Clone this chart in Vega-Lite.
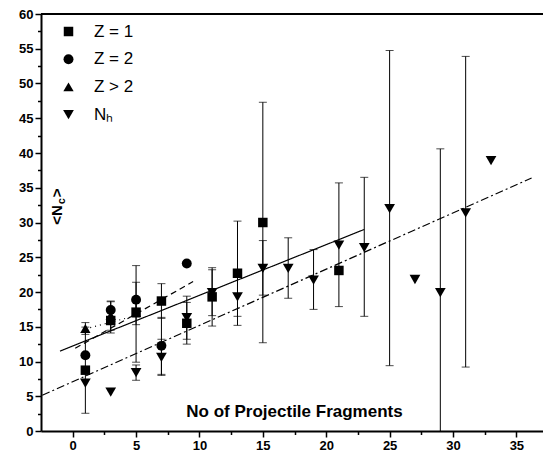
{
  "$schema": "https://vega.github.io/schema/vega-lite/v6.json",
  "width": 502,
  "height": 417,
  "autosize": {"type": "none"},
  "padding": {"left": 41, "top": 14, "right": 0, "bottom": 30},
  "config": {
    "view": {"stroke": null},
    "font": "Liberation Sans",
    "axis": {"domainColor": "#000000", "domainWidth": 2, "tickColor": "#000000", "tickWidth": 1.5, "labelFont": "Liberation Sans", "labelFontWeight": "bold", "labelFontSize": 13, "labelColor": "#000000", "grid": false, "titleColor": "#000000", "titleFont": "Liberation Sans"}
  },
  "datasets": {
    "pts": [
      {"s": "Z = 1", "x": 1, "y": 8.75, "lo": 2.55, "hi": 14.95},
      {"s": "Z = 1", "x": 3, "y": 15.9, "lo": 14.1, "hi": 17.7},
      {"s": "Z = 1", "x": 5, "y": 17.1, "lo": 9.9, "hi": 23.8},
      {"s": "Z = 1", "x": 7, "y": 18.7, "lo": 16.2, "hi": 21.2},
      {"s": "Z = 1", "x": 9, "y": 15.5, "lo": 12.5, "hi": 18.5},
      {"s": "Z = 1", "x": 11, "y": 19.3, "lo": 15.1, "hi": 23.5},
      {"s": "Z = 1", "x": 13, "y": 22.7, "lo": 15.2, "hi": 30.2},
      {"s": "Z = 1", "x": 15, "y": 30.0, "lo": 12.7, "hi": 47.3},
      {"s": "Z = 1", "x": 21, "y": 23.1, "lo": null, "hi": null},
      {"s": "Z = 2", "x": 1, "y": 10.9, "lo": null, "hi": null},
      {"s": "Z = 2", "x": 3, "y": 17.4, "lo": 16.2, "hi": 18.6},
      {"s": "Z = 2", "x": 5, "y": 18.9, "lo": 16.4, "hi": 21.4},
      {"s": "Z = 2", "x": 7, "y": 12.25, "lo": 8.15, "hi": 16.35},
      {"s": "Z = 2", "x": 9, "y": 24.1, "lo": null, "hi": null},
      {"s": "Z > 2", "x": 1, "y": 14.75, "lo": 13.9, "hi": 15.6},
      {"s": "Z > 2", "x": 3, "y": 16.6, "lo": 14.5, "hi": 18.7},
      {"s": "Z > 2", "x": 5, "y": 17.0, "lo": 15.3, "hi": 18.7},
      {"s": "Nₕ", "x": 1, "y": 6.9, "lo": null, "hi": null},
      {"s": "Nₕ", "x": 3, "y": 5.6, "lo": null, "hi": null},
      {"s": "Nₕ", "x": 5, "y": 8.4, "lo": 7.3, "hi": 9.5},
      {"s": "Nₕ", "x": 7, "y": 10.6, "lo": 8.0, "hi": 13.2},
      {"s": "Nₕ", "x": 9, "y": 16.3, "lo": 13.2, "hi": 19.4},
      {"s": "Nₕ", "x": 11, "y": 19.9, "lo": 16.6, "hi": 23.2},
      {"s": "Nₕ", "x": 13, "y": 19.3, "lo": 16.5, "hi": 22.1},
      {"s": "Nₕ", "x": 15, "y": 23.4, "lo": 19.55, "hi": 27.4},
      {"s": "Nₕ", "x": 17, "y": 23.4, "lo": 19.1, "hi": 27.8},
      {"s": "Nₕ", "x": 19, "y": 21.7, "lo": 17.5, "hi": 26.1},
      {"s": "Nₕ", "x": 21, "y": 26.75, "lo": 17.9, "hi": 35.7},
      {"s": "Nₕ", "x": 23, "y": 26.4, "lo": 16.5, "hi": 36.5},
      {"s": "Nₕ", "x": 25, "y": 32.0, "lo": 9.4, "hi": 54.75},
      {"s": "Nₕ", "x": 27, "y": 21.8, "lo": null, "hi": null},
      {"s": "Nₕ", "x": 29, "y": 19.9, "lo": -0.8, "hi": 40.6},
      {"s": "Nₕ", "x": 31, "y": 31.4, "lo": 9.2, "hi": 53.9},
      {"s": "Nₕ", "x": 33, "y": 38.9, "lo": null, "hi": null}
    ],
    "fits": [
      {"k": "solid", "x": -1, "y": 11.5},
      {"k": "solid", "x": 23, "y": 29.0},
      {"k": "dash", "x": 0.2, "y": 11.9},
      {"k": "dash", "x": 9.5, "y": 21.5},
      {"k": "dot", "x": 1, "y": 14.7},
      {"k": "dot", "x": 5, "y": 16.6},
      {"k": "dashdot", "x": -2.4, "y": 5.15},
      {"k": "dashdot", "x": 36.2, "y": 36.4}
    ],
    "ytitle": [
      {"x": -1.25, "y": 32.5}
    ]
  },
  "layer": [
    {
      "layer": [
        {
          "data": {"values": [{}]},
          "mark": {"type": "rule", "color": "black", "strokeWidth": 2},
          "encoding": {
            "y": {"datum": 60, "type": "quantitative", "scale": {"domain": [0, 60], "nice": false, "zero": false}, "axis": {"values": [0,5,10,15,20,25,30,35,40,45,50,55,60], "title": null, "tickSize": 6, "labelPadding": 2, "orient": "left", "domainColor": "#000000", "tickColor": "#000000", "labelColor": "#000000"}}
          }
        },
        {
          "data": {"name": "pts"},
          "transform": [{"filter": "isValid(datum.lo)"}],
          "mark": {"type": "rule", "color": "black", "strokeWidth": 1, "clip": true},
          "encoding": {
            "x": {"field": "x", "type": "quantitative", "scale": {"domain": [-2.5, 37.1], "nice": false, "zero": false}, "axis": {"values": [0,5,10,15,20,25,30,35], "title": "No of Projectile Fragments", "tickSize": 6, "labelPadding": 2, "titleFontSize": 17, "titleFontWeight": "bold", "titleX": 253, "titleY": -15, "titleBaseline": "alphabetic", "orient": "bottom", "domainColor": "#000000", "tickColor": "#000000", "labelColor": "#000000"}},
            "y": {"field": "lo", "type": "quantitative", "scale": {"domain": [0, 60], "nice": false, "zero": false}, "axis": {"values": [0,5,10,15,20,25,30,35,40,45,50,55,60], "title": null, "tickSize": 6, "labelPadding": 2, "orient": "left", "domainColor": "#000000", "tickColor": "#000000", "labelColor": "#000000"}},
            "y2": {"field": "hi"}
          }
        },
        {
          "data": {"name": "pts"},
          "transform": [{"filter": "isValid(datum.lo)"}],
          "mark": {"type": "tick", "orient": "horizontal", "size": 8, "thickness": 1, "color": "black", "clip": true},
          "encoding": {
            "x": {"field": "x", "type": "quantitative", "scale": {"domain": [-2.5, 37.1], "nice": false, "zero": false}, "axis": {"values": [0,5,10,15,20,25,30,35], "title": "No of Projectile Fragments", "tickSize": 6, "labelPadding": 2, "titleFontSize": 17, "titleFontWeight": "bold", "titleX": 253, "titleY": -15, "titleBaseline": "alphabetic", "orient": "bottom", "domainColor": "#000000", "tickColor": "#000000", "labelColor": "#000000"}},
            "y": {"field": "lo", "type": "quantitative", "scale": {"domain": [0, 60], "nice": false, "zero": false}, "axis": {"values": [0,5,10,15,20,25,30,35,40,45,50,55,60], "title": null, "tickSize": 6, "labelPadding": 2, "orient": "left", "domainColor": "#000000", "tickColor": "#000000", "labelColor": "#000000"}}
          }
        },
        {
          "data": {"name": "pts"},
          "transform": [{"filter": "isValid(datum.hi)"}],
          "mark": {"type": "tick", "orient": "horizontal", "size": 8, "thickness": 1, "color": "black", "clip": true},
          "encoding": {
            "x": {"field": "x", "type": "quantitative", "scale": {"domain": [-2.5, 37.1], "nice": false, "zero": false}, "axis": {"values": [0,5,10,15,20,25,30,35], "title": "No of Projectile Fragments", "tickSize": 6, "labelPadding": 2, "titleFontSize": 17, "titleFontWeight": "bold", "titleX": 253, "titleY": -15, "titleBaseline": "alphabetic", "orient": "bottom", "domainColor": "#000000", "tickColor": "#000000", "labelColor": "#000000"}},
            "y": {"field": "hi", "type": "quantitative", "scale": {"domain": [0, 60], "nice": false, "zero": false}, "axis": {"values": [0,5,10,15,20,25,30,35,40,45,50,55,60], "title": null, "tickSize": 6, "labelPadding": 2, "orient": "left", "domainColor": "#000000", "tickColor": "#000000", "labelColor": "#000000"}}
          }
        },
        {
          "data": {"name": "pts"},
          "mark": {"type": "point", "filled": true, "color": "black", "opacity": 1, "strokeWidth": 0},
          "encoding": {
            "x": {"field": "x", "type": "quantitative", "scale": {"domain": [-2.5, 37.1], "nice": false, "zero": false}, "axis": {"values": [0,5,10,15,20,25,30,35], "title": "No of Projectile Fragments", "tickSize": 6, "labelPadding": 2, "titleFontSize": 17, "titleFontWeight": "bold", "titleX": 253, "titleY": -15, "titleBaseline": "alphabetic", "orient": "bottom", "domainColor": "#000000", "tickColor": "#000000", "labelColor": "#000000"}},
            "y": {"field": "y", "type": "quantitative", "scale": {"domain": [0, 60], "nice": false, "zero": false}, "axis": {"values": [0,5,10,15,20,25,30,35,40,45,50,55,60], "title": null, "tickSize": 6, "labelPadding": 2, "orient": "left", "domainColor": "#000000", "tickColor": "#000000", "labelColor": "#000000"}},
            "shape": {"field": "s", "type": "nominal", "scale": {"domain": ["Z = 1", "Z = 2", "Z > 2", "Nₕ"], "range": ["square", "circle", "triangle-up", "triangle-down"]}, "legend": {"title": null, "orient": "none", "legendX": 19, "legendY": 9, "labelFont": "Liberation Sans", "labelFontSize": 17, "labelColor": "#000000", "symbolFillColor": "#000000", "symbolStrokeColor": "#000000", "symbolStrokeWidth": 0, "rowPadding": 9.7, "labelOffset": 17, "padding": 0}},
            "size": {"field": "s", "type": "nominal", "scale": {"domain": ["Z = 1", "Z = 2", "Z > 2", "Nₕ"], "range": [90, 115, 220, 220]}, "legend": {"title": null, "orient": "none", "legendX": 19, "legendY": 9, "labelFont": "Liberation Sans", "labelFontSize": 17, "labelColor": "#000000", "symbolFillColor": "#000000", "symbolStrokeColor": "#000000", "symbolStrokeWidth": 0, "rowPadding": 9.7, "labelOffset": 17, "padding": 0}}
          }
        },
        {
          "data": {"name": "ytitle"},
          "mark": {"type": "text", "text": "<N", "angle": 270, "align": "right", "baseline": "middle", "font": "Liberation Sans", "fontWeight": "bold", "fontSize": 15, "color": "black"},
          "encoding": {
            "x": {"field": "x", "type": "quantitative", "scale": {"domain": [-2.5, 37.1], "nice": false, "zero": false}, "axis": {"values": [0,5,10,15,20,25,30,35], "title": "No of Projectile Fragments", "tickSize": 6, "labelPadding": 2, "titleFontSize": 17, "titleFontWeight": "bold", "titleX": 253, "titleY": -15, "titleBaseline": "alphabetic", "orient": "bottom", "domainColor": "#000000", "tickColor": "#000000", "labelColor": "#000000"}},
            "y": {"field": "y", "type": "quantitative", "scale": {"domain": [0, 60], "nice": false, "zero": false}, "axis": {"values": [0,5,10,15,20,25,30,35,40,45,50,55,60], "title": null, "tickSize": 6, "labelPadding": 2, "orient": "left", "domainColor": "#000000", "tickColor": "#000000", "labelColor": "#000000"}}
          }
        },
        {
          "data": {"name": "ytitle"},
          "mark": {"type": "text", "text": "c", "angle": 270, "align": "left", "baseline": "middle", "dx": 1, "dy": 5, "font": "Liberation Sans", "fontWeight": "bold", "fontSize": 11, "color": "black"},
          "encoding": {
            "x": {"field": "x", "type": "quantitative", "scale": {"domain": [-2.5, 37.1], "nice": false, "zero": false}, "axis": {"values": [0,5,10,15,20,25,30,35], "title": "No of Projectile Fragments", "tickSize": 6, "labelPadding": 2, "titleFontSize": 17, "titleFontWeight": "bold", "titleX": 253, "titleY": -15, "titleBaseline": "alphabetic", "orient": "bottom", "domainColor": "#000000", "tickColor": "#000000", "labelColor": "#000000"}},
            "y": {"field": "y", "type": "quantitative", "scale": {"domain": [0, 60], "nice": false, "zero": false}, "axis": {"values": [0,5,10,15,20,25,30,35,40,45,50,55,60], "title": null, "tickSize": 6, "labelPadding": 2, "orient": "left", "domainColor": "#000000", "tickColor": "#000000", "labelColor": "#000000"}}
          }
        },
        {
          "data": {"name": "ytitle"},
          "mark": {"type": "text", "text": ">", "angle": 270, "align": "left", "baseline": "middle", "dx": 8, "font": "Liberation Sans", "fontWeight": "bold", "fontSize": 15, "color": "black"},
          "encoding": {
            "x": {"field": "x", "type": "quantitative", "scale": {"domain": [-2.5, 37.1], "nice": false, "zero": false}, "axis": {"values": [0,5,10,15,20,25,30,35], "title": "No of Projectile Fragments", "tickSize": 6, "labelPadding": 2, "titleFontSize": 17, "titleFontWeight": "bold", "titleX": 253, "titleY": -15, "titleBaseline": "alphabetic", "orient": "bottom", "domainColor": "#000000", "tickColor": "#000000", "labelColor": "#000000"}},
            "y": {"field": "y", "type": "quantitative", "scale": {"domain": [0, 60], "nice": false, "zero": false}, "axis": {"values": [0,5,10,15,20,25,30,35,40,45,50,55,60], "title": null, "tickSize": 6, "labelPadding": 2, "orient": "left", "domainColor": "#000000", "tickColor": "#000000", "labelColor": "#000000"}}
          }
        }
      ]
    },
    {
      "data": {"name": "fits"},
      "mark": {"type": "line", "color": "black", "strokeWidth": 1.2, "clip": true},
      "encoding": {
        "x": {"field": "x", "type": "quantitative", "scale": {"domain": [-2.5, 37.1], "nice": false, "zero": false}, "axis": {"values": [2.5,7.5,12.5,17.5,22.5,27.5,32.5], "labels": false, "domain": false, "tickSize": 3.5, "title": null, "orient": "bottom", "tickColor": "#000000"}},
        "y": {"field": "y", "type": "quantitative", "scale": {"domain": [0, 60], "nice": false, "zero": false}, "axis": {"values": [2.5,7.5,12.5,17.5,22.5,27.5,32.5,37.5,42.5,47.5,52.5,57.5], "labels": false, "domain": false, "tickSize": 3.5, "title": null, "orient": "left", "tickColor": "#000000"}},
        "detail": {"field": "k"},
        "strokeDash": {"field": "k", "type": "nominal", "scale": {"domain": ["solid", "dash", "dot", "dashdot"], "range": [[1, 0], [6, 4], [1, 4], [8, 3, 2, 3]]}, "legend": null}
      }
    }
  ],
  "resolve": {"axis": {"x": "independent", "y": "independent"}}
}
